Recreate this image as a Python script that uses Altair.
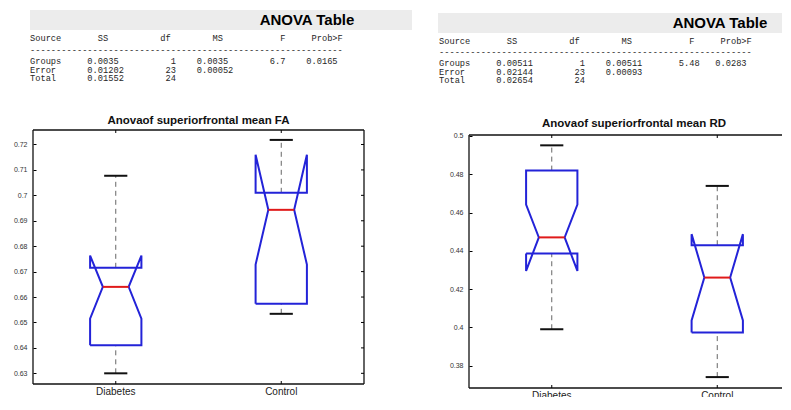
import altair as alt
import pandas as pd

# ---------------- data ----------------
groups = ["Diabetes", "Control"]
positions = [1, 2]

# FA panel
fa_lower = [0.6300, 0.6534]
fa_q1 = [0.6410, 0.6574]
fa_median = [0.6640, 0.6943]
fa_q3 = [0.6715, 0.7010]
fa_upper = [0.7077, 0.7218]
fa_notch_lo = [0.6515, 0.6728]
fa_notch_hi = [0.6763, 0.7160]
fa_ticks = [0.63, 0.64, 0.65, 0.66, 0.67, 0.68, 0.69, 0.70, 0.71, 0.72]
fa_domain = [0.6258, 0.7257]

# RD panel
rd_lower = [0.3990, 0.3740]
rd_q1 = [0.4386, 0.3973]
rd_median = [0.4470, 0.4260]
rd_q3 = [0.4819, 0.4429]
rd_upper = [0.4951, 0.4739]
rd_notch_lo = [0.4295, 0.4036]
rd_notch_hi = [0.4641, 0.4487]
rd_ticks = [0.38, 0.40, 0.42, 0.44, 0.46, 0.48, 0.50]
rd_domain = [0.3683, 0.5005]

fa_title = "Anovaof superiorfrontal mean FA"
rd_title = "Anovaof superiorfrontal mean RD"
table_heading = "ANOVA Table"
anova_header = ["Source", "SS", "df", "MS", "F", "Prob>F"]
fa_table = [
    ["Groups", "0.0035", "1", "0.0035", "6.7", "0.0165"],
    ["Error", "0.01202", "23", "0.00052", "", ""],
    ["Total", "0.01552", "24", "", "", ""],
]
rd_table = [
    ["Groups", "0.00511", "1", "0.00511", "5.48", "0.0283"],
    ["Error", "0.02144", "23", "0.00093", "", ""],
    ["Total", "0.02654", "24", "", "", ""],
]

# ---------------- layout / style ----------------
# column offsets in pixels from the table's left edge (style, not data)
HEADER_PX = [(0, "l"), (70, "l"), (133, "l"), (182, "l"), (252, "l"), (282, "l")]
VALUE_PX = [(0, "l"), (56, "l"), (146, "r"), (168, "l"), (238, "l"), (276, "l")]
DASH_PX = 318
NBSP = "\u00a0"

BOX_HALF = 0.155
NOTCH_HALF = 0.078
CAP_HALF = 0.07
BLUE = "#2323d8"
RED = "#e01a1a"
FRAME = "#111111"
UNIT_PX = 331 / 2.0
VIEW_TOP = 130  # page y of both panels' view origin
VIEW_BOTTOM = 397


def fixed_line(cells, cols, cw):
    n = int(DASH_PX / cw) + 2
    buf = [NBSP] * n
    for text, (px, al) in zip(cells, cols):
        if not text:
            continue
        if al == "l":
            start = int(round(px / cw))
        else:
            start = int(round(px / cw)) - len(text)
        for i, ch in enumerate(text):
            buf[start + i] = ch
    return "".join(buf).rstrip(NBSP)


def panel(lower, q1, med, q3, upper, nlo, nhi, ticks, domain, title, table,
          width, geo):
    px0 = geo["view_x"]          # page x of view origin
    ry = lambda page_y: page_y - VIEW_TOP
    rx = lambda page_x: page_x - px0
    yo = ry(geo["frame_top"])
    fb = ry(geo["frame_bottom"])
    view_h = VIEW_BOTTOM - VIEW_TOP

    rows = []
    for g, p, a, b, m, c, d in zip(groups, positions, q1, nlo, med, nhi, q3):
        L, R = p - BOX_HALF, p + BOX_HALF
        Lm, Rm = p - NOTCH_HALF, p + NOTCH_HALF
        seq = [(L, a), (L, b), (Lm, m), (L, c), (L, d), (R, d), (R, c),
               (Rm, m), (R, b), (R, a), (L, a)]
        for i, (x, y) in enumerate(seq):
            rows.append({"group": g, "i": i, "x": x, "y": y})
    poly = pd.DataFrame(rows)

    stats = pd.DataFrame({
        "group": groups, "pos": positions, "lower": lower, "q1": q1,
        "median": med, "q3": q3, "upper": upper,
    })
    stats["mlo"] = stats["pos"] - NOTCH_HALF
    stats["mhi"] = stats["pos"] + NOTCH_HALF
    stats["clo"] = stats["pos"] - CAP_HALF
    stats["chi"] = stats["pos"] + CAP_HALF

    xs = alt.Scale(domain=[0.5, 0.5 + width / UNIT_PX], nice=False, zero=False)
    ys = alt.Scale(domain=domain, nice=False, zero=False, range=[fb, yo])
    yaxis = alt.Axis(values=ticks, format=".2~f", title=None, grid=False, domain=False,
                     tickSize=3, offset=-3, labelPadding=6, labelFontSize=7,
                     labelFont="Liberation Sans", labelColor="#333", tickColor="#000")
    X = lambda f: alt.X(f, type="quantitative", scale=xs, axis=None)
    Y = lambda f: alt.Y(f, type="quantitative", scale=ys, axis=yaxis)

    one = pd.DataFrame({"k": [0]})
    layers = []
    # heading band
    layers.append(alt.Chart(one).mark_rect(color="#ececec").encode(
        x=alt.value(rx(geo["band_x"][0])), x2=alt.value(rx(geo["band_x"][1])),
        y=alt.value(ry(geo["band_y"][0])), y2=alt.value(ry(geo["band_y"][1]))))
    layers.append(alt.Chart(pd.DataFrame({"t": [table_heading]})).mark_text(
        font="Liberation Sans", fontSize=15, fontWeight="bold", color="#000",
        align="center", baseline="middle").encode(
        x=alt.value(rx(geo["head"][0])), y=alt.value(ry(geo["head"][1])), text="t:N"))
    # table rows
    fs = geo["mono"]
    cw = 0.6 * fs
    lines = [fixed_line(anova_header, HEADER_PX, cw), "-" * int(DASH_PX / cw)]
    lines += [fixed_line(r, VALUE_PX, cw) for r in table]
    for ln, yy in zip(lines, geo["row_y"]):
        layers.append(alt.Chart(pd.DataFrame({"t": [ln]})).mark_text(
            font="Liberation Mono", fontSize=fs, color="#262626",
            align="left", baseline="middle").encode(
            x=alt.value(rx(geo["row_x"])), y=alt.value(ry(yy)), text="t:N"))
    # plot title
    layers.append(alt.Chart(pd.DataFrame({"t": [title]})).mark_text(
        font="Liberation Sans", fontSize=11.5, fontWeight="bold", color="#111",
        align="center", baseline="middle").encode(
        x=alt.value(rx(geo["title"][0])), y=alt.value(ry(geo["title"][1])), text="t:N"))

    # frame (left, top, bottom and, when visible, right)
    layers.append(alt.Chart(one).mark_rule(color=FRAME, strokeWidth=1.3).encode(
        x=alt.value(0), x2=alt.value(width), y=alt.value(yo)))
    layers.append(alt.Chart(one).mark_rule(color=FRAME, strokeWidth=1.3).encode(
        x=alt.value(0), x2=alt.value(width), y=alt.value(fb)))
    layers.append(alt.Chart(one).mark_rule(color=FRAME, strokeWidth=1.3).encode(
        x=alt.value(0), y=alt.value(yo), y2=alt.value(fb)))
    base = alt.Chart(stats)
    if geo["right_border"]:
        layers.append(alt.Chart(one).mark_rule(color=FRAME, strokeWidth=1.3).encode(
            x=alt.value(width), y=alt.value(yo), y2=alt.value(fb)))
        layers.append(alt.Chart(pd.DataFrame({"v": ticks})).mark_rule(
            color="#000", strokeWidth=1).encode(
            y=Y("v"), x=alt.value(width - 3), x2=alt.value(width)))

    # inward ticks on top and bottom edges
    layers.append(base.mark_rule(color="#000", strokeWidth=1).encode(
        x=X("pos"), y=alt.value(yo), y2=alt.value(yo + 3)))
    layers.append(base.mark_rule(color="#000", strokeWidth=1).encode(
        x=X("pos"), y=alt.value(fb - 3), y2=alt.value(fb)))
    # category labels (clipped at the lower edge like the source image)
    layers.append(base.mark_text(
        font="Liberation Sans", fontSize=10, color="#222", align="center",
        baseline="top", clip=True).encode(
        x=X("pos"), y=alt.value(fb + 3), text="group:N"))

    # dashed whiskers
    layers.append(base.mark_rule(color="#666", strokeDash=[5, 4], strokeWidth=1).encode(
        x=X("pos"), y=Y("q3"), y2="upper"))
    layers.append(base.mark_rule(color="#666", strokeDash=[5, 4], strokeWidth=1).encode(
        x=X("pos"), y=Y("lower"), y2="q1"))
    # caps
    layers.append(base.mark_rule(color="#111", strokeWidth=2).encode(
        x=X("clo"), x2="chi", y=Y("upper")))
    layers.append(base.mark_rule(color="#111", strokeWidth=2).encode(
        x=X("clo"), x2="chi", y=Y("lower")))
    # notched boxes
    layers.append(alt.Chart(poly).mark_line(color=BLUE, strokeWidth=2).encode(
        x=X("x"), y=Y("y"), detail="group:N", order="i:Q"))
    # medians
    layers.append(base.mark_rule(color=RED, strokeWidth=2).encode(
        x=X("mlo"), x2="mhi", y=Y("median")))

    return alt.layer(*layers).properties(width=width, height=view_h)


left = panel(fa_lower, fa_q1, fa_median, fa_q3, fa_upper, fa_notch_lo, fa_notch_hi,
             fa_ticks, fa_domain, fa_title, fa_table, 331,
             dict(view_x=33, frame_top=130, frame_bottom=384,
                  band_x=(30, 412), band_y=(10, 30), head=(307, 20),
                  row_x=30, mono=8.7, row_y=[38, 50, 61, 69.7, 78.4],
                  title=(198.5, 121), right_border=True))
right = panel(rd_lower, rd_q1, rd_median, rd_q3, rd_upper, rd_notch_lo, rd_notch_hi,
              rd_ticks, rd_domain, rd_title, rd_table, 313,
              dict(view_x=469, frame_top=135, frame_bottom=388,
                   band_x=(438, 782), band_y=(13, 33), head=(720, 23),
                   row_x=439, mono=8.7, row_y=[41, 52, 63, 71.7, 80.4],
                   title=(634, 124), right_border=False))

chart = alt.hconcat(left, right, spacing=26).properties(
    padding={"left": 5, "top": 2, "right": 0, "bottom": 0},
    background="white",
).configure_view(stroke=None)

chart.save("out.html", embed_options={"renderer": "svg", "actions": False})
